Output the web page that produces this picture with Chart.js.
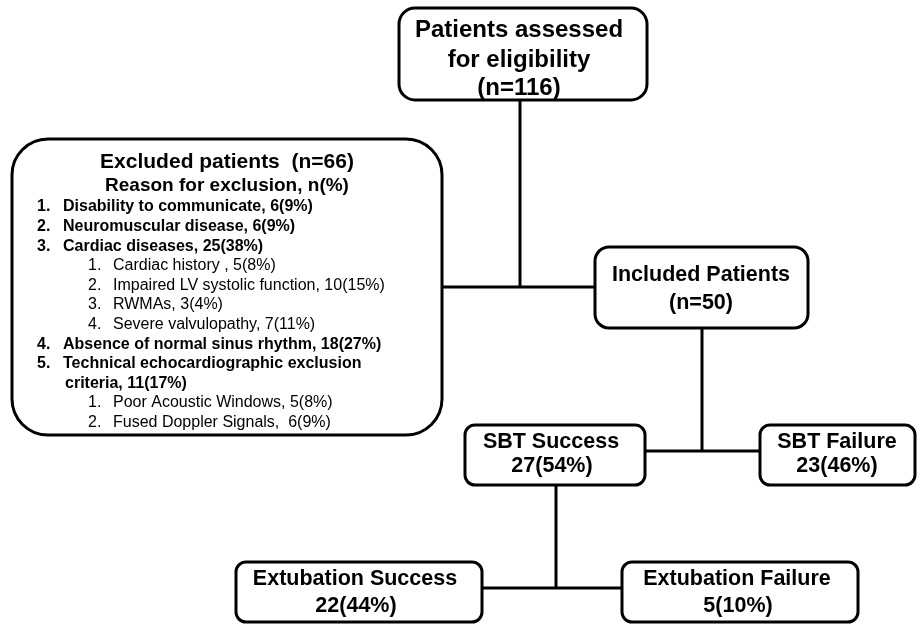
<!DOCTYPE html>
<html>
<head>
<meta charset="utf-8">
<script src="https://cdn.jsdelivr.net/npm/chart.js@4.4.1/dist/chart.umd.min.js"></script>
<style>
html,body{margin:0;padding:0;background:#fff;}
#wrap{width:917px;height:626px;position:relative;}
</style>
</head>
<body>
<div id="wrap"><canvas id="c" width="917" height="626"></canvas></div>
<script>
// ---------- data ----------
const totalAssessed = 116;
const excludedTotal = 66;
const includedTotal = 50;
const sbtLabels = ['SBT Success', 'SBT Failure'];
const sbtCounts = [27, 23];
const sbtPercents = [54, 46];
const extubationLabels = ['Extubation Success', 'Extubation Failure'];
const extubationCounts = [22, 5];
const extubationPercents = [44, 10];
const reasonLabels = ['Disability to communicate', 'Neuromuscular disease', 'Cardiac diseases', 'Absence of normal sinus rhythm', 'Technical echocardiographic exclusion criteria'];
const reasonCounts = [6, 6, 25, 18, 11];
const reasonPercents = [9, 9, 38, 27, 17];
const cardiacLabels = ['Cardiac history ', 'Impaired LV systolic function', 'RWMAs', 'Severe valvulopathy'];
const cardiacCounts = [5, 10, 3, 7];
const cardiacPercents = [8, 15, 4, 11];
const technicalLabels = ['Poor Acoustic Windows', 'Fused Doppler Signals'];
const technicalCounts = [5, 6];
const technicalPercents = [8, 9];
const technicalSeparators = [', ', ',  '];

// ---------- layout (data units of the hidden linear scales) ----------
const FONT = "'Liberation Sans', Arial, sans-serif";
const boxes = {
  assessed:   {x0: 399, y0: 8,   x1: 647, y1: 100, r: 16},
  excluded:   {x0: 12,  y0: 139, x1: 442, y1: 435, r: 36},
  included:   {x0: 595, y0: 247, x1: 808, y1: 328, r: 14},
  sbtS:       {x0: 465, y0: 425, x1: 645, y1: 485, r: 10},
  sbtF:       {x0: 760, y0: 425, x1: 915, y1: 485, r: 10},
  extS:       {x0: 236, y0: 562, x1: 482, y1: 622, r: 10},
  extF:       {x0: 622, y0: 562, x1: 858, y1: 622, r: 10}
};
const connectors = [
  [[520, 100], [520, 287]],
  [[442, 287], [595, 287]],
  [[702, 328], [702, 451]],
  [[645, 451], [760, 451]],
  [[556, 485], [556, 588]],
  [[482, 588], [622, 588]]
];

function pctStr(n, p) { return n + '(' + p + '%)'; }

const flowPlugin = {
  id: 'flow',
  afterDraw(chart) {
    const ctx = chart.ctx;
    const sx = chart.scales.x, sy = chart.scales.y;
    const X = v => sx.getPixelForValue(v);
    const Y = v => sy.getPixelForValue(v);
    ctx.save();
    ctx.strokeStyle = '#000';
    ctx.fillStyle = '#000';
    ctx.lineWidth = 3;
    ctx.lineCap = 'butt';
    connectors.forEach(seg => {
      ctx.beginPath();
      ctx.moveTo(X(seg[0][0]), Y(seg[0][1]));
      ctx.lineTo(X(seg[1][0]), Y(seg[1][1]));
      ctx.stroke();
    });
    Object.values(boxes).forEach(b => {
      const x0 = X(b.x0), x1 = X(b.x1), y0 = Y(b.y0), y1 = Y(b.y1), r = b.r;
      ctx.beginPath();
      ctx.moveTo(x0 + r, y0);
      ctx.lineTo(x1 - r, y0);
      ctx.arcTo(x1, y0, x1, y0 + r, r);
      ctx.lineTo(x1, y1 - r);
      ctx.arcTo(x1, y1, x1 - r, y1, r);
      ctx.lineTo(x0 + r, y1);
      ctx.arcTo(x0, y1, x0, y1 - r, r);
      ctx.lineTo(x0, y0 + r);
      ctx.arcTo(x0, y0, x0 + r, y0, r);
      ctx.closePath();
      ctx.fillStyle = '#fff';
      ctx.fill();
      ctx.stroke();
    });
    ctx.fillStyle = '#000';
    ctx.textBaseline = 'middle';
    const center = (txt, cx, cy, size, weight) => {
      ctx.font = (weight || 'bold') + ' ' + size + 'px ' + FONT;
      ctx.textAlign = 'center';
      ctx.fillText(txt, X(cx), Y(cy));
    };
    const left = (txt, lx, cy, size, weight) => {
      ctx.font = (weight || 'bold') + ' ' + size + 'px ' + FONT;
      ctx.textAlign = 'left';
      ctx.fillText(txt, X(lx), Y(cy));
    };
    // top box
    center('Patients assessed', 519, 30, 24);
    center('for eligibility', 519, 60, 24);
    center('(n=' + totalAssessed + ')', 519, 88, 24);
    // included
    center('Included Patients', 701, 275, 21.5);
    center('(n=' + includedTotal + ')', 701, 303, 21.5);
    // SBT
    center(sbtLabels[0], 551, 442, 21.5);
    center(pctStr(sbtCounts[0], sbtPercents[0]), 552, 466, 21.5);
    center(sbtLabels[1], 837, 442, 21.5);
    center(pctStr(sbtCounts[1], sbtPercents[1]), 837, 466, 21.5);
    // extubation
    center(extubationLabels[0], 355, 579, 21.5);
    center(pctStr(extubationCounts[0], extubationPercents[0]), 356, 606, 21.5);
    center(extubationLabels[1], 737, 579, 21.5);
    center(pctStr(extubationCounts[1], extubationPercents[1]), 738, 606, 21.5);
    // excluded box
    center('Excluded patients  (n=' + excludedTotal + ')', 227, 162, 21);
    center('Reason for exclusion, n(%)', 227, 186, 19);
    const lineH = 19.6;
    let y = 207;
    const subLists = {
      2: [cardiacLabels, cardiacCounts, cardiacPercents, null],
      4: [technicalLabels, technicalCounts, technicalPercents, technicalSeparators]
    };
    reasonLabels.forEach((lab, i) => {
      left((i + 1) + '.', 37, y, 16);
      ctx.font = 'bold 16px ' + FONT;
      const full = lab + ', ' + pctStr(reasonCounts[i], reasonPercents[i]);
      const words = full.split(' ');
      let line = '';
      const lines = [];
      words.forEach(w => {
        const t = line ? line + ' ' + w : w;
        if (ctx.measureText(t).width > 360 && line) { lines.push(line); line = w; }
        else line = t;
      });
      lines.push(line);
      lines.forEach((ln, k) => {
        left(ln, k === 0 ? 63 : 65, y, 16);
        y += lineH;
      });
      if (subLists[i]) {
        const [labs, cnts, pcts, seps] = subLists[i];
        labs.forEach((s, j) => {
          left((j + 1) + '.', 88, y, 16, 'normal');
          left(s + (seps ? seps[j] : ', ') + pctStr(cnts[j], pcts[j]), 113, y, 16, 'normal');
          y += lineH;
        });
      }
    });
    ctx.restore();
  }
};

new Chart(document.getElementById('c'), {
  type: 'scatter',
  data: { datasets: [{ data: [], pointRadius: 0 }] },
  options: {
    responsive: false,
    animation: false,
    layout: { padding: 0 },
    plugins: { legend: { display: false }, tooltip: { enabled: false } },
    scales: {
      x: { type: 'linear', min: 0, max: 917, display: false },
      y: { type: 'linear', min: 0, max: 626, reverse: true, display: false }
    }
  },
  plugins: [flowPlugin]
});
</script>
</body>
</html>
